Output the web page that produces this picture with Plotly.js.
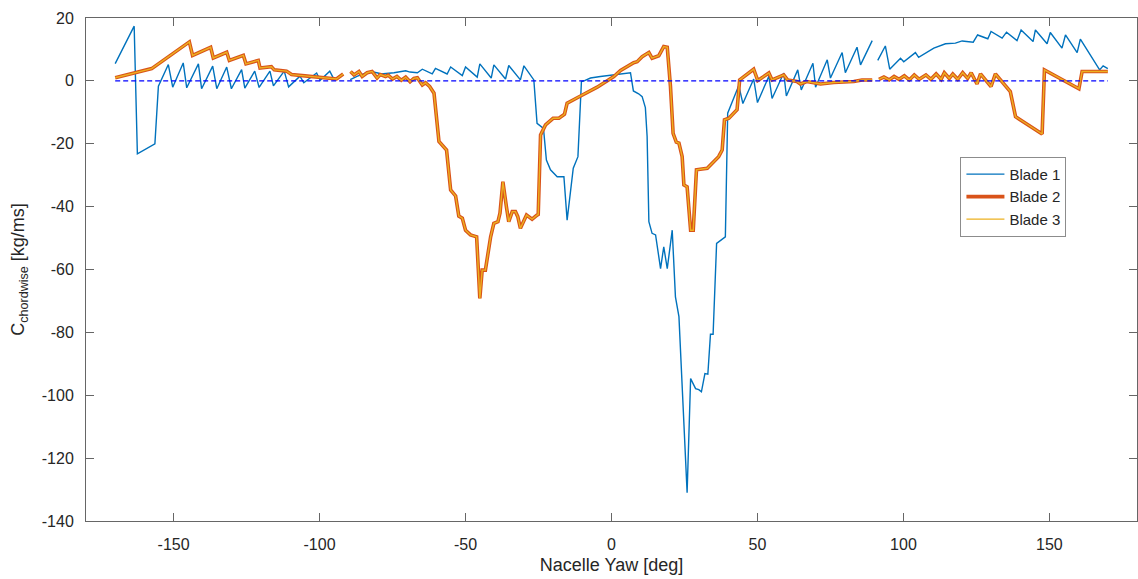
<!DOCTYPE html>
<html>
<head>
<meta charset="utf-8">
<script src="https://cdn.plot.ly/plotly-3.0.1.min.js"></script>
<style>html,body{margin:0;padding:0;background:#fff;}#chart{width:1138px;height:579px;}</style>
</head>
<body>
<div id="chart"></div>
<script>
// Blade 1 (nacelle yaw [deg], C chordwise [kg/ms]); null = gap in the data
const yaw1 = [-170,-163.5,-162.4,-156.4,-155.2,-151.8,-150.3,-146.7,-145.5,-141.5,-140.4,-136.6,-135.2,-131.8,-130.2,-126.7,-125.6,-122.2,-120.7,-117,-115.8,-112.1,-110.6,-106.7,-105.4,-101,-99.8,-96.5,-95,-92.8,
  -91,
  -89.5,-87,-84,-82,-80,-79,-74.5,-70.5,-69,-66.5,-64.8,-61.4,-60.3,-56.3,-55.1,-51.1,-50,-46,-45.1,-41.2,-40.3,-36.3,-35.2,-31.2,-30,-26.6,-25.5,-23.3,-22.3,-20.9,-18.6,-16.3,-15.2,-14,-13.1,-11.5,-10.3,-9.2,-7.2,-3.8,0.8,6.5,7.5,9.3,10.5,11.6,12.2,12.8,13.9,15.1,16.8,17.9,19.1,20.8,21.9,23.1,25.9,27.1,28.8,29.9,30.8,32,33,33.9,34.8,36,39,39.8,43.6,45,48.7,50,53.9,55,59,59.9,63.8,65,69,69.9,73.9,75,79,80.1,84.1,85.3,89.3,
  90,
  91.2,93.8,95.3,99,100.1,104.1,105.2,110.4,114.4,117.8,120.1,123.9,125.4,128.9,130,133.8,135.3,138.9,140.3,144.4,145.2,149.2,150.3,154.3,155.5,159.5,160.6,167.2,168.4,170];
const blade1 = [5.5,17.4,-23.2,-20,-1.7,5.2,-2,5.7,-2.2,5.4,-2.5,4.7,-2.5,4.4,-2.5,3.6,-2.3,3.1,-2.1,3.1,-1.6,3.1,-1.9,1.5,-0.6,2.5,0.2,3.1,0.4,1.8,
  null,
  0.4,1.5,2.5,2.9,2.5,2.2,2.6,3.2,2.8,2.6,3.7,2.2,4,2.2,4.4,1.7,4.4,1.2,5.4,0.9,5.1,0.6,4.9,0.3,4.8,0.3,-13.5,-15.1,-25.2,-28.3,-30.5,-30.5,-44.3,-34.7,-27.8,-24.1,-0.2,0.1,0.9,1.4,1.9,2.6,-3.2,-4.1,-5,-8.5,-17.7,-44.8,-48.5,-49,-59.7,-52.8,-59.7,-47.5,-68.7,-75,-131,-94.7,-97.9,-98.2,-98.9,-93.1,-93.3,-80.6,-80.6,-51.7,-49.6,-10.3,-1.5,-7.2,0.6,-6.9,1.5,-5.6,2.5,-4.8,3.5,-2.9,5.6,-2,6.7,0.9,9,2.6,10.7,5.1,12.8,
  null,
  6.5,11.1,3.7,7.2,6.1,9,7.5,10.4,11.8,12,12.7,12.3,14.6,13.4,15.7,13.6,15.5,12.8,16.2,12.5,16.2,11.8,15.4,10.4,14.6,9,13.3,3.5,4.8,3.9];

// Blade 2 (Blade 3 is drawn on the same values; the two curves coincide in the picture)
const yaw2 = [-170,-157.5,-144.6,-143.5,-137.3,-136.4,-131.8,-130.9,-126.1,-125.2,-121,-120.4,-116.5,-115.5,-111.3,-109.6,-105,-100,-94.2,-91.9,
  -90.6,
  -89.4,-88.2,-86.5,-85.4,-83.7,-82,-80.3,-79.2,-77.4,-76.5,-75,-73.5,-72,-70.5,-69,-67.7,-66.5,-64.8,-63.7,-62.3,-60.8,-59.1,-56.5,-55.1,-53.4,-52.3,-51.1,-50,-48.3,-46.2,-45.1,-44.3,-43.2,-41.4,-40.3,-38.9,-38.2,-37.2,-36,-35.2,-34,-32.9,-32.1,-31.2,-29.1,-27.2,-25.5,-25.1,-24.3,-22.6,-20,-18,-16.1,-15.2,-10.6,-4.9,0.8,3.1,7.6,8.8,10.5,12.8,13.9,16.2,17.9,19.1,20.2,21.1,22.2,23.1,24.2,24.8,25.9,27.1,28,29.1,30.4,32.8,35,36.7,37.9,38.7,40.2,43,43.9,48.7,50.1,53.9,55,59,60.3,63.5,64.7,66.9,71.6,76.1,83,85.8,89.3,
  90.4,
  91.6,93.3,95.1,96.8,98.5,100.3,102,103.7,105.4,107.7,109.4,111.2,112.9,114,115.7,116.9,118.6,120.3,122,123.2,125.2,126.4,130,131.5,136.6,138.4,147.5,148.3,160.1,161.2,170];
const blade2 = [1,3.9,12.4,8.1,10.7,7.3,9.1,6.5,8.1,5.4,6.5,4.1,4.5,3.5,3.1,2,1.6,1.2,0.6,2.2,
  null,
  3,1.9,3,1.4,2.6,3,0.9,2,1.4,1.8,0.6,1.4,0.2,1.2,-0.3,0.8,1,-1.3,-0.6,-1.8,-3.9,-19.3,-22,-34.7,-36.6,-43,-43.7,-47.5,-49,-49.6,-69.2,-60.2,-60.2,-49.6,-45.3,-44.8,-42.1,-32.1,-40,-44.8,-41.6,-41.6,-43.2,-46.9,-42.7,-44,-42.7,-42.5,-17.2,-14,-11.9,-11.9,-10.6,-7.1,-4.8,-2,1.4,3.3,5.8,6.1,7.7,9,7.2,8,10.9,10.7,-1.8,-16.7,-19.5,-19.8,-24.1,-33.1,-33.7,-47.5,-47.5,-28.3,-28.1,-27.8,-25.7,-24.1,-22,-12.4,-11.9,-9.2,0.3,3.7,0.1,2.5,0.3,1.9,0.3,-0.2,-1,-0.2,-1,-0.5,-0.2,0.3,0.3,
  null,
  0.5,1.2,0.3,1.4,0.5,1.6,0.3,1.9,0.5,1.9,0.5,2.2,0.5,2.6,0.8,2.2,0.5,2.6,0.8,2.6,-1,2.2,-1.8,2.2,-3.4,-11.4,-16.9,3.5,-2.5,3,3];
const yaw3 = yaw2;
const blade3 = blade2;

// zero reference line
const refYaw = [-170, 170];
const refVal = [0, 0];

const seriesNames = ['Blade 1', 'Blade 2', 'Blade 3'];
const xTicks = [-150, -100, -50, 0, 50, 100, 150];
const xTickText = ['-150', '-100', '-50', '0', '50', '100', '150'];
const yTicks = [-140, -120, -100, -80, -60, -40, -20, 0, 20];
const yTickText = ['-140', '-120', '-100', '-80', '-60', '-40', '-20', '0', '20'];

const FONT = 'Liberation Sans, Arial, sans-serif';
const TXT = '#262626';
const AX = '#666666';

const traces = [
  {x: yaw1, y: blade1, name: seriesNames[0], type: 'scatter', mode: 'lines',
   line: {color: '#0072BD', width: 1.4}, connectgaps: false},
  {x: yaw2, y: blade2, name: seriesNames[1], type: 'scatter', mode: 'lines',
   line: {color: '#D95319', width: 3.6}, connectgaps: false},
  {x: yaw3, y: blade3, name: seriesNames[2], type: 'scatter', mode: 'lines',
   line: {color: '#EDB120', width: 1.4}, connectgaps: false},
  {x: refYaw, y: refVal, type: 'scatter', mode: 'lines', showlegend: false, hoverinfo: 'skip',
   line: {color: '#0000FF', width: 1.3, dash: '5px,3px'}}
];

const axisCommon = {
  showgrid: false, zeroline: false, showline: true, linecolor: AX, linewidth: 1,
  mirror: 'ticks', ticks: 'inside', ticklen: 8, tickcolor: AX, tickwidth: 1,
  tickfont: {family: FONT, size: 16, color: TXT}
};

const layout = {
  width: 1138, height: 579,
  margin: {l: 86, r: 1, t: 18, b: 58},
  paper_bgcolor: '#ffffff', plot_bgcolor: '#ffffff',
  showlegend: true,
  font: {family: FONT, color: TXT},
  xaxis: Object.assign({}, axisCommon, {
    range: [-180, 180], tickvals: xTicks, ticktext: xTickText, ticklabelstandoff: 9,
    title: {text: 'Nacelle Yaw [deg]', font: {family: FONT, size: 18, color: TXT}, standoff: 6}
  }),
  yaxis: Object.assign({}, axisCommon, {
    range: [-140, 20], tickvals: yTicks, ticktext: yTickText, ticklabelstandoff: 8,
    title: {text: 'C<sub>chordwise</sub> [kg/ms]', font: {family: FONT, size: 18, color: TXT}, standoff: 12}
  }),
  legend: {
    x: 0.832, y: 0.724, xanchor: 'left', yanchor: 'top',
    bgcolor: '#ffffff', bordercolor: '#8c8c8c', borderwidth: 1,
    font: {family: FONT, size: 15, color: TXT},
    itemwidth: 38, tracegroupgap: 0
  }
};

Plotly.newPlot('chart', traces, layout, {staticPlot: true, displayModeBar: false});
</script>
</body>
</html>
